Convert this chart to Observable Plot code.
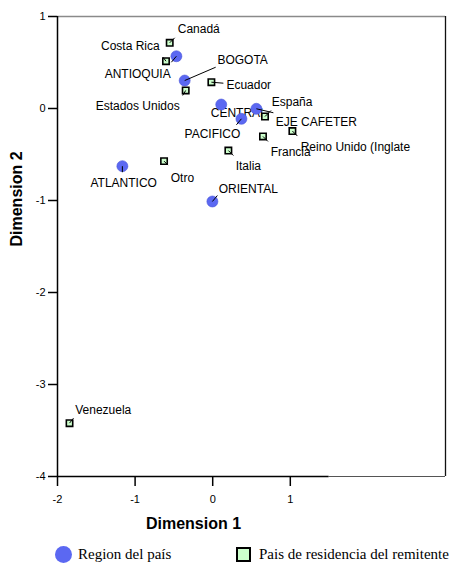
<!DOCTYPE html>
<html>
<head>
<meta charset="utf-8">
<script src="https://cdn.jsdelivr.net/npm/d3@7"></script>
<script src="https://cdn.jsdelivr.net/npm/@observablehq/plot@0.6"></script>
<style>
  html, body { margin: 0; padding: 0; background: #fff; }
  #wrap { position: relative; width: 452px; height: 569px; }
  #legend { position: absolute; left: 0; top: 540px; width: 452px; height: 29px;
            font-family: "Liberation Serif", "Times New Roman", serif; font-size: 15px; color: #000; }
  .lg { position: absolute; top: 0; height: 29px; display: flex; align-items: center; }
  .sw-c { width: 17px; height: 17px; border-radius: 50%; background: #5b68f2; margin-right: 6px; }
  .sw-s { width: 11px; height: 11px; border: 2px solid #000; background: #ccffcc; margin-right: 8px; }
</style>
</head>
<body>
<div id="wrap"><div id="chart"></div><div id="legend"></div></div>
<script>
// ---- data ----
const regionNames = ["ANTIOQUIA", "BOGOTA", "CENTRAL", "EJE CAFETER", "PACIFICO", "ATLANTICO", "ORIENTAL"];
const regionDim1  = [-0.468, -0.361, 0.110, 0.563, 0.370, -1.164, -0.004];
const regionDim2  = [0.568, 0.304, 0.043, -0.003, -0.112, -0.627, -1.011];

const countryNames = ["Canadá", "Costa Rica", "Estados Unidos", "Ecuador", "España",
                      "Reino Unido (Inglate", "Francia", "Italia", "Otro", "Venezuela"];
const countryDim1  = [-0.554, -0.602, -0.348, -0.017, 0.674, 1.027, 0.648, 0.202, -0.627, -1.845];
const countryDim2  = [0.714, 0.514, 0.196, 0.286, -0.087, -0.245, -0.304, -0.457, -0.572, -3.42];

const xTicks = [-2, -1, 0, 1];
const yTicks = [-4, -3, -2, -1, 0, 1];
const xDomain = [-2, 3];
const yDomain = [-4, 1];
const xAxisExtent = [-2, 1.5];

const legendLabels = ["Region del país", "Pais de residencia del remitente"];

// ---- layout (pixel offsets of labels and leader ends) ----
const regionLayout = [
  {dx: -5.7, dy: 17.6, anchor: "end",    lx: -5, ly: 6},
  {dx: 32.7, dy: -20.7, anchor: "start", lx: 31, ly: -13.3},
  {dx: -10.5, dy: 9,   anchor: "start",  lx: 0, ly: 0},
  {dx: 19.3, dy: 13.7, anchor: "start",  lx: 17, ly: 4},
  {dx: -29,  dy: 15.7, anchor: "middle", lx: -5, ly: 6},
  {dx: 1.3,  dy: 17,   anchor: "middle", lx: 0, ly: 6},
  {dx: 6.3,  dy: -12.7, anchor: "start", lx: 5, ly: -6}
];
const countryLayout = [
  {dx: 8,    dy: -14,  anchor: "start", lx: 5, ly: -5},
  {dx: -6.3, dy: -14.7, anchor: "end",  lx: -3, ly: -4},
  {dx: -6,   dy: 15.7, anchor: "end",   lx: -3, ly: 5},
  {dx: 15,   dy: 3.3,  anchor: "start", lx: 12, ly: 1},
  {dx: 6.7,  dy: -14,  anchor: "start", lx: 6, ly: -6},
  {dx: 8.3,  dy: 16.2, anchor: "start", lx: 5, ly: 5},
  {dx: 7.7,  dy: 15.7, anchor: "start", lx: 5, ly: 5},
  {dx: 7.3,  dy: 16,   anchor: "start", lx: 5, ly: 5},
  {dx: 6.7,  dy: 16.6, anchor: "start", lx: 4, ly: 4},
  {dx: 5.7,  dy: -12.7, anchor: "start", lx: 4, ly: -5}
];

const W = 452, H = 540;
const mL = 57, mR = 7, mT = 16, mB = H - 476;
const kx = (W - mL - mR) / (xDomain[1] - xDomain[0]);
const ky = (H - mT - mB) / (yDomain[1] - yDomain[0]);

const regions = regionNames.map((n, i) => ({name: n, x: regionDim1[i], y: regionDim2[i], ...regionLayout[i]}));
const countries = countryNames.map((n, i) => ({name: n, x: countryDim1[i], y: countryDim2[i], ...countryLayout[i]}));
const all = [...regions, ...countries].map(d => ({
  ...d,
  tx: d.x + d.dx / kx, ty: d.y - d.dy / ky,
  ex: d.x + d.lx / kx, ey: d.y - d.ly / ky
}));

const font = "Arial, 'Liberation Sans', sans-serif";
const textMark = anchor => Plot.text(all.filter(d => d.anchor === anchor), {
  x: "tx", y: "ty", text: "name", textAnchor: anchor, fontSize: 12, fill: "#000"
});

const chart = Plot.plot({
  width: W, height: H,
  marginLeft: mL, marginRight: mR, marginTop: mT, marginBottom: mB,
  style: {fontFamily: font, background: "#fff", overflow: "visible"},
  x: {domain: xDomain},
  y: {domain: yDomain},
  marks: [
    Plot.ruleY([yDomain[1]], {stroke: "#8a8a8a", strokeWidth: 1.5}),
    Plot.ruleX([xDomain[1]], {stroke: "#111", strokeWidth: 1.3}),
    Plot.ruleY([yDomain[0]], {x1: xAxisExtent[1], x2: xDomain[1], stroke: "#555", strokeWidth: 1}),
    Plot.ruleY([yDomain[0]], {x1: xAxisExtent[0], x2: xAxisExtent[1], stroke: "#000", strokeWidth: 1.5}),
    Plot.ruleX([xDomain[0]], {stroke: "#000", strokeWidth: 1.5}),
    Plot.axisX({ticks: xTicks, tickSize: 10, tickPadding: 9, tickFormat: d => String(d),
                fontSize: 11, label: null, strokeWidth: 1.5}),
    Plot.axisY({ticks: yTicks, tickSize: 9, tickPadding: 3, tickFormat: d => String(d),
                fontSize: 11, label: null, strokeWidth: 1.5}),
    Plot.text(["Dimension 1"], {frameAnchor: "bottom", dx: -58, dy: 52, fontSize: 16,
                fontWeight: "bold", fill: "#000"}),
    Plot.text(["Dimension 2"], {frameAnchor: "left", dx: -41, rotate: -90, fontSize: 16,
                fontWeight: "bold", fill: "#000"}),
    textMark("start"), textMark("end"), textMark("middle"),
    Plot.dot(regions, {x: "x", y: "y", r: 5.5, fill: "#5b68f2", stroke: "#4a56d8", strokeWidth: 0.6}),
    Plot.dot(countries, {x: "x", y: "y", symbol: "square", r: 3.6, fill: "#ccffcc", stroke: "#000", strokeWidth: 1.6}),
    Plot.link(all.filter(d => d.lx !== 0 || d.ly !== 0), {x1: "x", y1: "y", x2: "ex", y2: "ey", stroke: "#000", strokeWidth: 1})
  ]
});
document.getElementById("chart").appendChild(chart);

const legend = document.getElementById("legend");
legend.innerHTML = `
  <div class="lg" style="left:55px"><div class="sw-c"></div>${legendLabels[0]}</div>
  <div class="lg" style="left:236px"><div class="sw-s"></div>${legendLabels[1]}</div>`;
</script>
</body>
</html>
